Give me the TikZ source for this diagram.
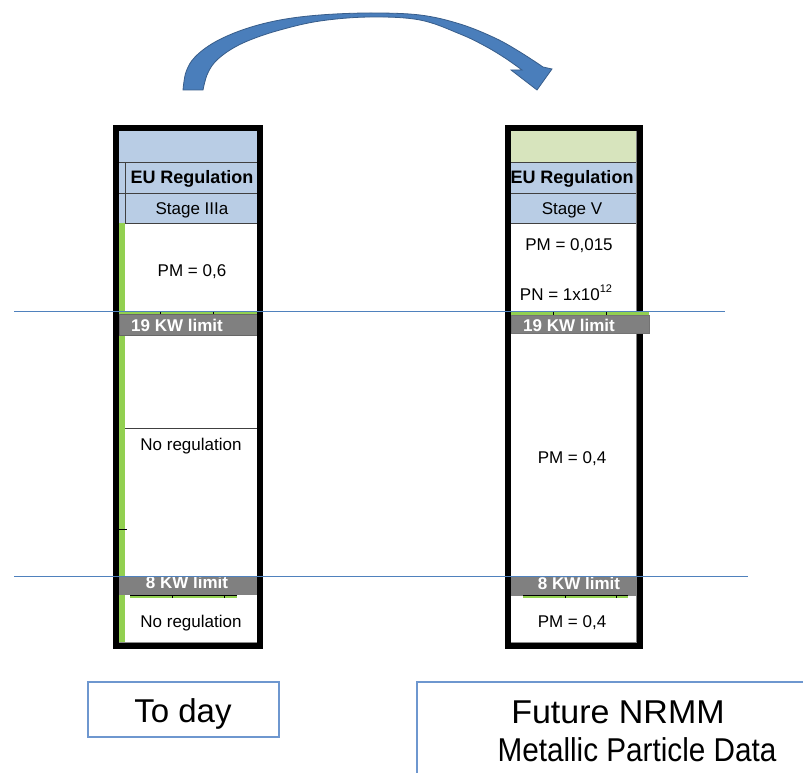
\documentclass[tikz,border=0pt]{standalone}
\usepackage{fontspec}
\setmainfont{Liberation Sans}
\definecolor{hdrblue}{RGB}{185,205,229}
\definecolor{hdrgreen}{RGB}{215,228,189}
\definecolor{barGreen}{RGB}{146,208,80}
\definecolor{limitgray}{RGB}{128,128,128}
\definecolor{refline}{RGB}{79,129,189}
\definecolor{arrowfill}{RGB}{74,126,187}
\definecolor{arrowedge}{RGB}{56,93,138}
\definecolor{boxedge}{RGB}{110,151,207}
\begin{document}
\begin{tikzpicture}[x=1pt,y=-1pt,
  txt/.style={font=\fontsize{17}{20}\selectfont, inner sep=0, anchor=base},
  btxt/.style={font=\fontsize{18}{21}\selectfont\bfseries, inner sep=0, anchor=base},
  limtxt/.style={font=\fontsize{17}{20}\selectfont\bfseries, text=white, inner sep=0, anchor=base},
  bigtxt/.style={font=\fontsize{33}{38}\selectfont, inner sep=0, anchor=base},
  colframe/.style={line width=6pt, draw=black},
  cellline/.style={draw=black!75, line width=0.8pt},
  tick/.style={draw=black, line width=0.8pt},
  refl/.style={draw=refline, line width=1pt},
  boxline/.style={draw=boxedge, line width=1.2pt},
]
\useasboundingbox[fill=white] (0,0) rectangle (803,773);

% curved arrow
\fill[arrowfill, draw=arrowedge, line width=0.8pt]
  plot[smooth, tension=0.6] coordinates {(183,90) (186,72) (195,57) (215,42) (245,29) (280,20) (320,15) (370,13) (420,15) (460,24) (495,38) (520,52) (543,67)}
  -- (552,69) -- (537,90) -- (511,70) -- (522,70)
  -- plot[smooth, tension=0.6] coordinates {(522,70) (505,58) (485,46) (460,34) (420,20) (370,17) (320,21) (280,30) (250,40) (230,50) (215,62) (207,75) (203,90)}
  -- cycle;

% ===== left column =====
\fill[hdrblue] (119,131) rectangle (257,223);
\draw[cellline] (119,162) -- (257,162);
\draw[cellline] (119,193) -- (257,193);
\draw[cellline] (125,162) -- (125,223);
\draw[cellline] (119,223) -- (257,223);
\fill[barGreen] (119,223) rectangle (125,643);
\fill[barGreen] (119,310.5) rectangle (257,314.5);
\draw[tick] (160,311) -- (160,314.5);
\draw[tick] (213,311) -- (213,314.5);
\fill[limitgray, draw=black!60, line width=0.8pt] (119,314.5) rectangle (257,335);
\draw[cellline] (125,428) -- (257,428);
\draw[tick] (119,529) -- (127,529);
\fill[limitgray] (119,576) rectangle (257,595);
\fill[barGreen] (130,595) rectangle (237,598);
\draw[tick] (130,595) -- (237,595);
\draw[tick] (172,595) -- (172,598);
\draw[tick] (224,595) -- (224,598);
\draw[draw=black!45, line width=1.2pt] (119,643) -- (257,643);
\draw[colframe] (116,128) rectangle (260,646);

\node[btxt] (euL) at (192,183) {EU Regulation};
\node[txt] (stL) at (192,214) {Stage IIIa};
\node[txt] (pmL) at (192,276) {PM = 0,6};
\node[limtxt] (kwL19) at (177,331) {19 KW limit};
\node[txt] (noregA) at (191,450) {No regulation};
\node[limtxt] (kwL8) at (187,588.5) {8 KW limit};
\node[txt] (noregB) at (191,627) {No regulation};

% ===== right column =====
\fill[hdrgreen] (511,131) rectangle (637,162);
\fill[hdrblue] (511,162) rectangle (637,223);
\draw[cellline] (511,162) -- (637,162);
\draw[cellline] (511,193) -- (637,193);
\draw[cellline] (511,223) -- (637,223);
\draw[draw=black!50, line width=0.8pt] (636,131) -- (636,643);
\fill[limitgray] (511,576) rectangle (637,596);
\fill[barGreen] (523,595.5) rectangle (628,598);
\draw[tick] (523,595.5) -- (628,595.5);
\draw[tick] (565,595.5) -- (565,598);
\draw[tick] (616,595.5) -- (616,598);
\draw[draw=black!45, line width=1.2pt] (511,643) -- (637,643);
\draw[colframe] (508,128) rectangle (640,646);
\fill[barGreen] (511,310.5) rectangle (649,315);
\draw[tick] (553,311) -- (553,315);
\draw[tick] (606,311) -- (606,315);
\fill[limitgray, draw=black!55, line width=0.8pt] (511,315) rectangle (649,333);

\node[btxt] (euR) at (572,183) {EU Regulation};
\node[txt] (stR) at (572,214) {Stage V};
\node[txt] (pmR1) at (569,250) {PM = 0,015};
\node[txt] (pnR) at (566,300) {PN = 1x10\raisebox{0.45em}{\fontsize{11}{11}\selectfont 12}};
\node[limtxt] (kwR19) at (569,331) {19 KW limit};
\node[txt] (pmR2) at (572,463) {PM = 0,4};
\node[limtxt] (kwR8) at (579,589) {8 KW limit};
\node[txt] (pmR3) at (572,627) {PM = 0,4};

% reference lines
\draw[refl] (14,311) -- (725,311);
\draw[refl] (14,576) -- (748,576);

% bottom labels
\draw[boxline] (88,682) rectangle (279,737);
\node[bigtxt] (today) at (183,722) {To day};
\draw[boxline] (803,682) -- (417,682) -- (417,773);
\node[bigtxt] (fut1) at (618,723) {\scalebox{1.03}[1]{Future NRMM}};
\node[bigtxt] (fut2) at (637,761) {\scalebox{0.9}[1]{Metallic Particle Data}};
\end{tikzpicture}
\end{document}
